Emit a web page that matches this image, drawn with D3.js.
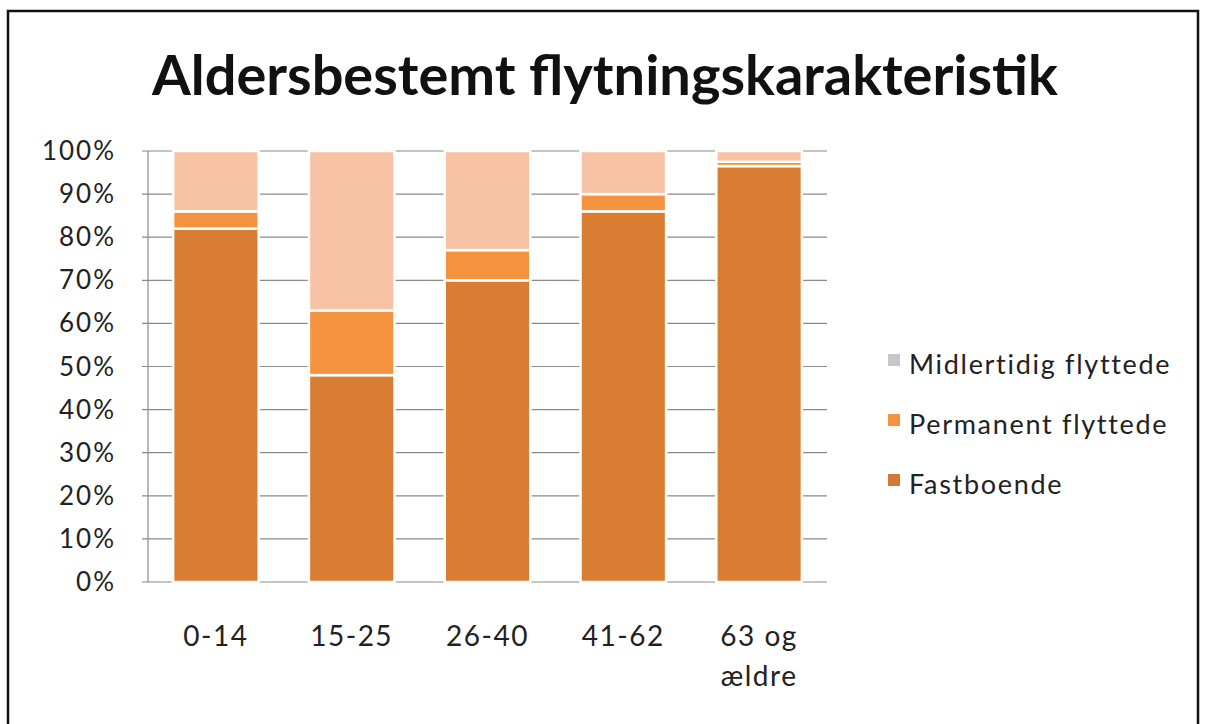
<!DOCTYPE html>
<html>
<head>
<meta charset="utf-8">
<script src="https://cdn.jsdelivr.net/npm/d3@7"></script>
<style>
  body { margin: 0; background: #fff; }
  svg { display: block; font-family: Lato, "Open Sans", sans-serif; }
</style>
</head>
<body>
<div id="viz"></div>
<script>
// data
const categories = ["0-14", "15-25", "26-40", "41-62", "63 og ældre"];
const seriesNames = ["Fastboende", "Permanent flyttede", "Midlertidig flyttede"];
const fastboende = [82, 48, 70, 86, 96.5];
const permanent = [4, 15, 7, 4, 1];
const midlertidig = [14, 37, 23, 10, 2.5];
const yTicks = [0, 0.1, 0.2, 0.3, 0.4, 0.5, 0.6, 0.7, 0.8, 0.9, 1];

const width = 1205;
const height = 724;
const margin = { top: 151, right: 378, bottom: 142, left: 148 };

const svg = d3.select('#viz').append('svg')
    .attr('width', width)
    .attr('height', height);

// outer frame
svg.append('rect')
    .attr('x', 8).attr('y', 11)
    .attr('width', 1190).attr('height', 730)
    .attr('fill', 'none')
    .attr('stroke', '#111')
    .attr('stroke-width', 2.5);

const title = svg.append('text')
    .attr('x', 605).attr('y', 95)
    .attr('text-anchor', 'middle')
    .attr('font-size', 55)
    .attr('font-weight', 'bold')
    .attr('fill', '#111')
    .text('Aldersbestemt flytningskarakteristik');
title.attr('textLength', 906).attr('lengthAdjust', 'spacingAndGlyphs');

const x = d3.scaleBand()
    .domain(categories)
    .range([margin.left, width - margin.right])
    .paddingInner(0.37)
    .paddingOuter(0.185);

const y = d3.scaleLinear()
    .domain([0, 1])
    .range([height - margin.bottom, margin.top]);

// grid
svg.append('g')
    .selectAll('line')
    .data(yTicks)
    .join('line')
    .attr('x1', margin.left - 6)
    .attr('x2', width - margin.right)
    .attr('y1', d => y(d))
    .attr('y2', d => y(d))
    .attr('stroke', '#8a8a8a')
    .attr('stroke-width', 1.2);

svg.append('line')
    .attr('x1', margin.left).attr('x2', margin.left)
    .attr('y1', y(0)).attr('y2', y(1))
    .attr('stroke', '#8a8a8a')
    .attr('stroke-width', 1.2);

// y labels
svg.append('g')
    .selectAll('text')
    .data(yTicks)
    .join('text')
    .attr('x', 116)
    .attr('y', d => y(d) + 9)
    .attr('text-anchor', 'end')
    .attr('font-size', 26)
    .attr('letter-spacing', 2)
    .attr('fill', '#222')
    .text(d3.format('.0%'));

// stacked bars
const table = categories.map((c, i) => ({
    cat: c,
    "Fastboende": fastboende[i],
    "Permanent flyttede": permanent[i],
    "Midlertidig flyttede": midlertidig[i]
}));
const stack = d3.stack().keys(seriesNames).offset(d3.stackOffsetExpand);
const colors = {
    "Fastboende": '#d87d32',
    "Permanent flyttede": '#f5923f',
    "Midlertidig flyttede": '#f8c3a4'
};

svg.append('g')
    .selectAll('g')
    .data(stack(table))
    .join('g')
    .attr('fill', d => colors[d.key])
    .selectAll('rect')
    .data(d => d)
    .join('rect')
    .attr('x', d => x(d.data.cat))
    .attr('width', x.bandwidth())
    .attr('y', d => y(d[1]))
    .attr('height', d => y(d[0]) - y(d[1]))
    .attr('stroke', '#fff')
    .attr('stroke-width', 2.5);

// x labels
svg.append('g')
    .selectAll('text')
    .data(categories)
    .join('text')
    .attr('x', d => x(d) + x.bandwidth() / 2)
    .attr('y', 646)
    .attr('text-anchor', 'middle')
    .attr('font-size', 28)
    .attr('letter-spacing', 1.5)
    .attr('fill', '#222')
    .each(function (d) {
        const parts = d === "63 og ældre" ? ["63 og", "ældre"] : [d];
        d3.select(this).selectAll('tspan')
            .data(parts)
            .join('tspan')
            .attr('x', x(d) + x.bandwidth() / 2)
            .attr('dy', (p, i) => i === 0 ? 0 : 40)
            .text(p => p);
    });

// legend
const legendColors = ['#c8c8c8', '#f5923f', '#d27a35'];
const legendNames = ["Midlertidig flyttede", "Permanent flyttede", "Fastboende"];
const legend = svg.append('g')
    .selectAll('g')
    .data(legendNames)
    .join('g')
    .attr('transform', (d, i) => `translate(888, ${364 + i * 60})`);
legend.append('rect')
    .attr('x', 0).attr('y', -10)
    .attr('width', 12).attr('height', 12)
    .attr('fill', (d, i) => legendColors[i]);
legend.append('text')
    .attr('x', 21).attr('y', 10)
    .attr('font-size', 27)
    .attr('letter-spacing', 1.7)
    .attr('fill', '#222')
    .text(d => d);
</script>
</body>
</html>
